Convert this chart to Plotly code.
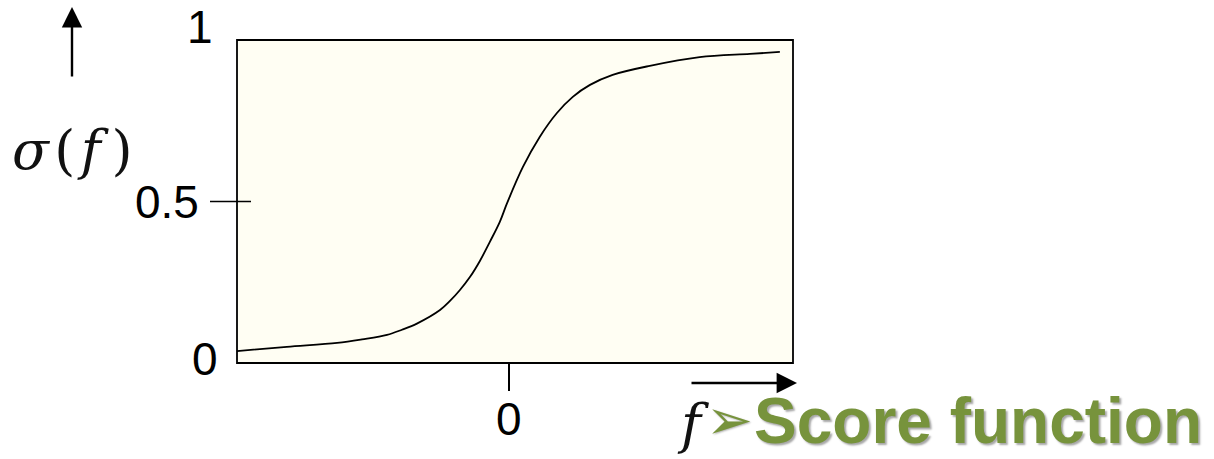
import plotly.graph_objects as go

# Sigmoid curve sampled along the score axis
f_vals = [-6.0, -4.9, -3.79, -3.24, -2.69, -2.36, -2.03, -1.52, -1.30, -1.08, -0.86,
          -0.64, -0.42, -0.20, -0.04, 0.31, 0.68, 1.06, 1.41, 1.79, 2.29, 3.11, 4.21, 5.32, 5.98]
sigma_vals = [0.037, 0.050, 0.062, 0.073, 0.087, 0.103, 0.122, 0.164, 0.192, 0.226, 0.266,
              0.316, 0.375, 0.437, 0.495, 0.607, 0.700, 0.774, 0.824, 0.861, 0.892, 0.920,
              0.947, 0.957, 0.963]

y_tick_vals = [0, 0.5, 1]
y_tick_text = ["0", "0.5", "1"]
x_tick_vals = [0]
x_tick_text = ["0"]

W, H = 1214, 459
L, R, T, B = 237, 421, 40, 96
PW, PH = W - L - R, H - T - B


def px(x):
    return (x - L) / PW


def py(y):
    return (H - B - y) / PH


fig = go.Figure()
fig.add_trace(go.Scatter(
    x=f_vals, y=sigma_vals, mode="lines",
    line=dict(color="black", width=1.8, shape="spline", smoothing=1.0),
    hoverinfo="skip", showlegend=False,
))

num_font = dict(family="Liberation Sans, Arial", size=46, color="black")
math_font = dict(family="DejaVu Serif", size=54, color="#111111")
green = "#77933C"
hs = "\u200a"

annotations = [
    # y-axis labels
    dict(x=px(214), y=py(0), xref="paper", yref="paper", text=y_tick_text[2],
         xanchor="right", yanchor="top", showarrow=False, font=num_font, borderpad=0),
    dict(x=px(201), y=y_tick_vals[1], xref="paper", yref="y", text=y_tick_text[1],
         xanchor="right", yanchor="middle", showarrow=False, font=num_font),
    dict(x=px(220), y=py(359), xref="paper", yref="paper", text=y_tick_text[0],
         xanchor="right", yanchor="middle", showarrow=False, font=num_font),
    # x-axis label
    dict(x=x_tick_vals[0], y=py(419), xref="x", yref="paper", text=x_tick_text[0],
         xanchor="center", yanchor="middle", showarrow=False, font=num_font),
    # axis titles
    dict(x=px(72), y=py(150), xref="paper", yref="paper",
         text=f"<i>σ</i>{hs}({hs}<i>f</i>{hs}{hs})",
         xanchor="center", yanchor="middle", showarrow=False, font=math_font),
    dict(x=px(693), y=py(424), xref="paper", yref="paper", text="<i>f</i>",
         xanchor="center", yanchor="middle", showarrow=False, font=math_font, borderpad=0),
    # bullet and caption
    dict(x=px(705), y=py(419), xref="paper", yref="paper", text="➢",
         xanchor="left", yanchor="middle", showarrow=False, borderpad=0,
         font=dict(family="DejaVu Sans", size=56, color=green,
                   shadow="1px 1px 2px rgba(0,0,0,0.3)")),
    dict(x=px(753), y=py(421), xref="paper", yref="paper", text="<b>Score function</b>",
         xanchor="left", yanchor="middle", showarrow=False, borderpad=0,
         font=dict(family="Liberation Sans, Arial", size=64, color=green,
                   shadow="2px 2px 2px rgba(0,0,0,0.35)")),
    # direction arrows
    dict(x=px(72), y=py(7), xref="paper", yref="paper", text="", showarrow=True,
         ax=0, ay=71, arrowhead=2, arrowsize=1.7, arrowwidth=2.4, arrowcolor="black"),
    dict(x=px(797), y=py(383), xref="paper", yref="paper", text="", showarrow=True,
         ax=-107, ay=0, arrowhead=2, arrowsize=1.7, arrowwidth=2.4, arrowcolor="black"),
]

shapes = [
    # plot frame
    dict(type="rect", xref="paper", yref="paper", x0=0, x1=1, y0=0, y1=1,
         line=dict(color="black", width=1.8), fillcolor="rgba(0,0,0,0)", layer="above"),
    # mid tick crossing the frame
    dict(type="line", xref="paper", yref="y", x0=px(210), x1=px(251),
         y0=y_tick_vals[1], y1=y_tick_vals[1], line=dict(color="black", width=1.5)),
]

fig.update_layout(
    width=W, height=H,
    margin=dict(l=L, r=R, t=T, b=B),
    paper_bgcolor="white",
    plot_bgcolor="#FFFEF3",
    xaxis=dict(range=[-6.0, 6.27], showgrid=False, zeroline=False, showline=False,
               tickvals=x_tick_vals, ticks="outside", ticklen=27, tickwidth=1.8,
               tickcolor="black", showticklabels=False, fixedrange=True),
    yaxis=dict(range=[0, 1], showgrid=False, zeroline=False, showline=False,
               showticklabels=False, ticks="", fixedrange=True),
    annotations=annotations,
    shapes=shapes,
)

fig.write_html("out.html", config={"displayModeBar": False})
